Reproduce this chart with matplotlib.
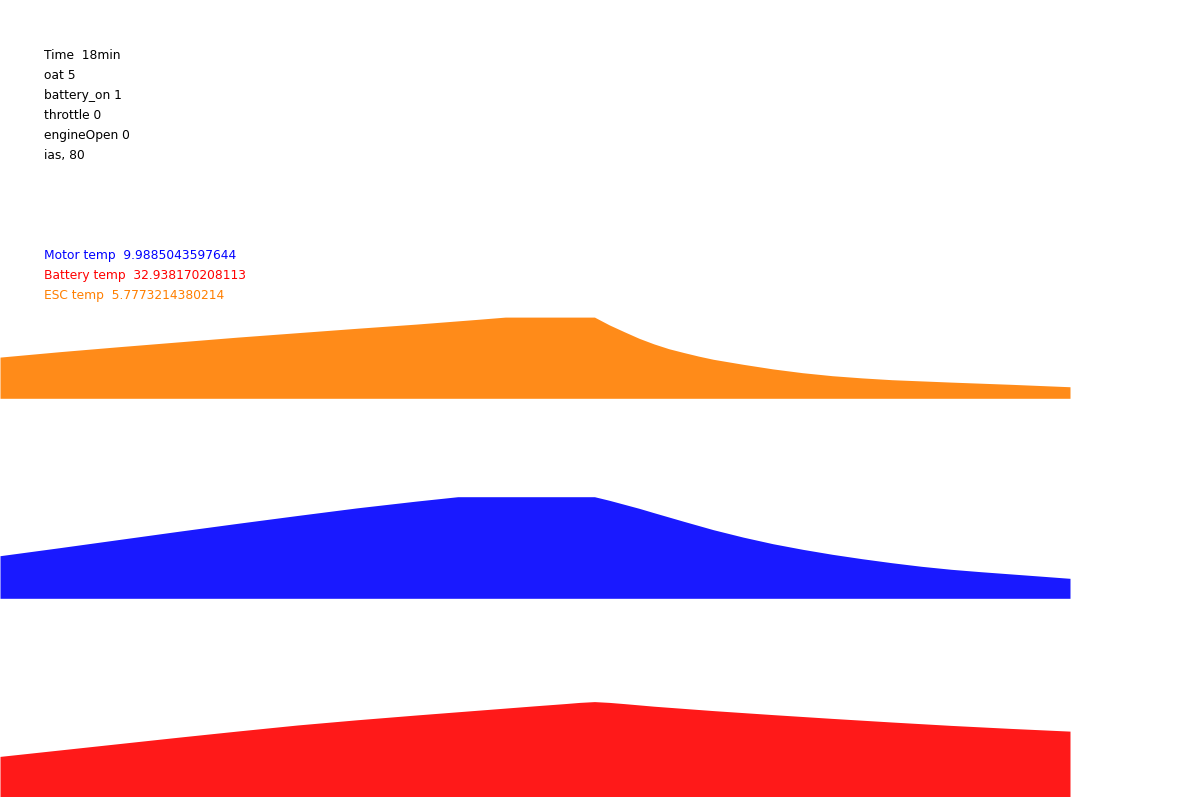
import matplotlib
matplotlib.use("Agg")
import matplotlib.pyplot as plt

# время полёта, минуты
time_esc = [0, 1, 2, 3, 4, 5, 6, 7, 8, 8.5, 10, 10.25, 10.5, 10.75, 11, 11.25, 11.5, 11.75,
            12, 12.5, 13, 13.5, 14, 14.5, 15, 15.5, 16, 17, 18]
esc_temp = [20.6, 23.3, 25.8, 28.2, 30.6, 32.8, 35.0, 37.1, 39.4, 40.6, 40.6, 36.7, 33.3, 30.0,
            27.2, 24.8, 22.9, 21.1, 19.5, 17.0, 14.7, 12.8, 11.3, 10.2, 9.3, 8.7, 8.1, 7.0,
            5.7773214380214]

time_motor = [0, 1, 2, 3, 4, 5, 6, 7, 7.7, 10, 10.25, 10.5, 10.75, 11, 11.5, 12, 12.5, 13,
              13.5, 14, 14.5, 15, 15.5, 16, 16.5, 17, 17.5, 18]
motor_temp = [21.3, 25.3, 29.4, 33.5, 37.5, 41.4, 45.2, 48.6, 50.8, 50.8, 49.0, 47.0, 45.0,
              42.8, 38.5, 34.3, 30.6, 27.3, 24.5, 22.0, 19.8, 17.8, 16.0, 14.5, 13.3, 12.2,
              11.1, 9.9885043597644]

time_batt = [0, 1, 2, 3, 4, 5, 6, 7, 8, 9, 9.5, 9.75, 10, 10.25, 10.5, 11, 12, 13, 14, 15,
             16, 17, 18]
batt_temp = [20.3, 23.5, 26.7, 29.9, 33.0, 36.0, 38.6, 41.0, 43.3, 45.6, 46.7, 47.3, 47.7,
             47.3, 46.7, 45.4, 43.2, 41.2, 39.3, 37.5, 35.8, 34.3, 32.938170208113]

status_lines = ["Time  18min", "oat 5", "battery_on 1", "throttle 0", "engineOpen 0", "ias, 80"]

ORANGE = '#FF7F00'
BLUE = '#0000FF'
RED = '#FF0000'

W, H = 1197, 797
fig = plt.figure(figsize=(W / 100, H / 100), dpi=100)

x_max = 18 * W / 1070.0  # данные кончаются на ~1070 px


def panel(bottom_px, t, v, color):
    ax = fig.add_axes([0, (H - bottom_px) / H, 1, 200 / H])
    ax.fill_between(t, 0, v, color=color, alpha=0.9, linewidth=0)
    ax.set_xlim(0, x_max)
    ax.set_ylim(0, 100)
    ax.axis('off')
    return ax


panel(398.3, time_esc, esc_temp, ORANGE)
panel(598.3, time_motor, motor_temp, BLUE)
panel(797, time_batt, batt_temp, RED)

# подписи слева сверху
for i, line in enumerate(status_lines):
    fig.text(44 / W, 1 - (55.5 + 20 * i) / H, line, fontsize=8.85, va='center', color='black')

temps = [("Motor temp  " + str(motor_temp[-1]), BLUE),
         ("Battery temp  " + str(batt_temp[-1]), RED),
         ("ESC temp  " + str(esc_temp[-1]), ORANGE)]
for i, (txt, c) in enumerate(temps):
    fig.text(44 / W, 1 - (255.5 + 20 * i) / H, txt, fontsize=8.85, va='center', color=c)

fig.savefig("out.png", dpi=100)
